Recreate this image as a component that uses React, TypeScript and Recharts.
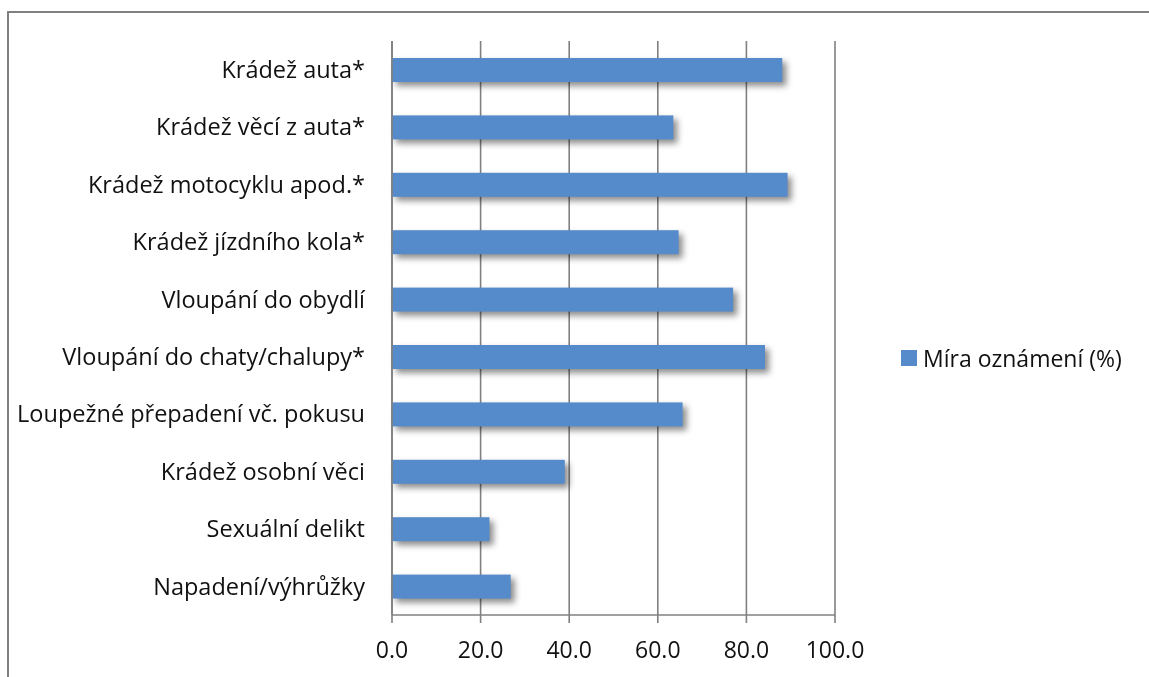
import React from 'react';
import { BarChart, Bar, XAxis, YAxis, CartesianGrid, Legend } from 'recharts';

const categories = [
  'Krádež auta*',
  'Krádež věcí z auta*',
  'Krádež motocyklu apod.*',
  'Krádež jízdního kola*',
  'Vloupání do obydlí',
  'Vloupání do chaty/chalupy*',
  'Loupežné přepadení vč. pokusu',
  'Krádež osobní věci',
  'Sexuální delikt',
  'Napadení/výhrůžky',
];
const reportRate = [88.1, 63.5, 89.3, 64.7, 77.0, 84.2, 65.6, 39.0, 22.0, 26.8];
const xTicks = [0, 20, 40, 60, 80, 100];
const seriesName = 'Míra oznámení (%)';

const data = categories.map((name, i) => ({ name, rate: reportRate[i] }));
const boundaryTicks = categories.map((_, i) => i).concat(categories.length);

const FONT = '"Open Sans", Lato, sans-serif';
const GREY = '#808080';
const BLUE = '#568BCB';

const ShadowBar = (props: any) => {
  const { x, y, width, height } = props;
  if (!width || width <= 0) return null;
  return (
    <rect
      x={x}
      y={y}
      width={width}
      height={height}
      fill={BLUE}
      style={{ filter: 'drop-shadow(4px 4px 3px rgba(0,0,0,0.45))' }}
    />
  );
};

const LegendBox = (props: any) => {
  const items = props.payload || [];
  return (
    <div style={{ width: 290, paddingLeft: 66, boxSizing: 'border-box', fontFamily: FONT }}>
      {items.map((it: any) => (
        <div key={it.value} style={{ display: 'flex', alignItems: 'center' }}>
          <span style={{ width: 16, height: 16, background: BLUE, marginRight: 6, display: 'inline-block' }} />
          <span style={{ fontSize: 23, color: '#111' }}>{it.value}</span>
        </div>
      ))}
    </div>
  );
};

export default function App() {
  return (
    <div style={{ position: 'relative', width: 1141, height: 661 }}>
      <div
        style={{
          position: 'fixed',
          top: 11,
          left: 7,
          width: 1142,
          height: 666,
          borderTop: `2px solid ${GREY}`,
          borderLeft: `2px solid ${GREY}`,
          boxSizing: 'border-box',
        }}
      />
      <div style={{ position: 'absolute', top: 0, left: 0 }}>
        <BarChart
          width={1141}
          height={661}
          data={data}
          layout="vertical"
          margin={{ top: 33, right: 24, bottom: 0, left: 0 }}
          barSize={24}
        >
          <CartesianGrid horizontal={false} vertical yAxisId="b1" stroke={GREY} strokeWidth={1.6} />
          <XAxis
            type="number"
            domain={[0, 100]}
            ticks={xTicks}
            tickFormatter={(v: number) => v.toFixed(1)}
            tickSize={8}
            tickMargin={19}
            height={54}
            stroke={GREY}
            strokeWidth={1.6}
            tick={{ fill: '#111', fontSize: 23, fontFamily: FONT }}
          />
          <YAxis
            yAxisId="a0"
            type="number"
            domain={[0, categories.length]}
            ticks={boundaryTicks}
            tick={false}
            tickSize={8}
            width={8}
            stroke={GREY}
            strokeWidth={1.6}
          />
          <YAxis
            yAxisId="b1"
            type="category"
            dataKey="name"
            width={376}
            axisLine={false}
            tickLine={false}
            tickSize={0}
            tickMargin={19}
            interval={0}
            tick={{ fill: '#111', fontSize: 23.5, fontFamily: FONT }}
          />
          <Legend
            layout="vertical"
            align="right"
            verticalAlign="middle"
            content={<LegendBox />}
            wrapperStyle={{ top: 334 }}
          />
          <Bar
            yAxisId="b1"
            dataKey="rate"
            name={seriesName}
            fill={BLUE}
            shape={<ShadowBar />}
            isAnimationActive={false}
          />
        </BarChart>
      </div>
    </div>
  );
}
